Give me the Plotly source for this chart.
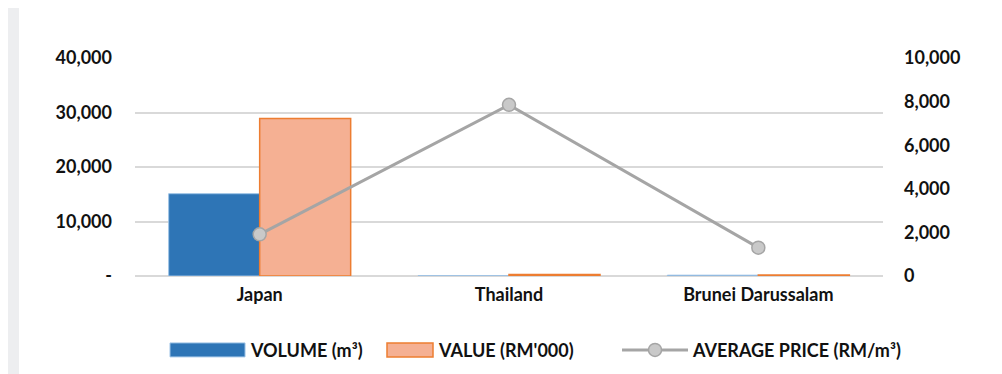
import plotly.graph_objects as go

countries = ['Japan', 'Thailand', 'Brunei Darussalam']
volume = [15100, 35, 150]         # m3
value = [28900, 275, 195]         # RM'000
avg_price = [1910, 7850, 1300]    # RM/m3

left_ticks = [0, 10000, 20000, 30000, 40000]
left_labels = ['-', '10,000', '20,000', '30,000', '40,000']
right_ticks = [0, 2000, 4000, 6000, 8000, 10000]
right_labels = ['0', '2,000', '4,000', '6,000', '8,000', '10,000']

FONT = 'Lato'
BLUE = '#2e75b6'
ORANGE_FILL = '#f5b093'
ORANGE_LINE = '#ed7d31'
GREY = '#a5a5a5'
TXT = dict(family=FONT, size=18, color='#111111', weight='bold')

fig = go.Figure()

fig.add_trace(go.Bar(x=countries, y=volume, name='VOLUME (m³)',
                     marker=dict(color=BLUE, line=dict(color='#9dc3e6', width=1)),
                     showlegend=False))
fig.add_trace(go.Bar(x=countries, y=value, name="VALUE (RM'000)",
                     marker=dict(color=ORANGE_FILL, line=dict(color=ORANGE_LINE, width=1.5)),
                     showlegend=False))
fig.add_trace(go.Scatter(x=countries, y=avg_price, name='AVERAGE PRICE (RM/m³)', yaxis='y2',
                         mode='lines+markers',
                         line=dict(color=GREY, width=3),
                         marker=dict(size=13, color='#c9c9c9', line=dict(color=GREY, width=1.5)),
                         showlegend=False))

# white card on grey page
fig.add_shape(type='rect', xref='paper', yref='paper', x0=-0.1551, x1=1.1524, y0=-0.6, y1=1.3,
              fillcolor='white', line_width=0, layer='below')

# hand-drawn legend (wide swatches like the original)
legend_y = -0.339
fig.add_shape(type='rect', xref='paper', yref='paper', x0=0.0468, x1=0.1471,
              y0=legend_y - 0.032, y1=legend_y + 0.032, fillcolor=BLUE,
              line=dict(color='#9dc3e6', width=1))
fig.add_shape(type='rect', xref='paper', yref='paper', x0=0.3369, x1=0.3984,
              y0=legend_y - 0.032, y1=legend_y + 0.032, fillcolor=ORANGE_FILL,
              line=dict(color=ORANGE_LINE, width=1.5))
fig.add_shape(type='line', xref='paper', yref='paper', x0=0.6511, x1=0.7393,
              y0=legend_y, y1=legend_y, line=dict(color=GREY, width=3))
fig.add_shape(type='circle', xref='paper', yref='paper', xsizemode='pixel', ysizemode='pixel',
              xanchor=0.6952, yanchor=legend_y, x0=-6.5, x1=6.5, y0=-6.5, y1=6.5,
              fillcolor='#c9c9c9', line=dict(color=GREY, width=1.5))

legend_items = [(0.151, 'VOLUME (m³)'), (0.4024, "VALUE (RM'000)"), (0.7420, 'AVERAGE PRICE (RM/m³)')]
for lx, txt in legend_items:
    fig.add_annotation(x=lx, y=legend_y, xref='paper', yref='paper', text=txt,
                       showarrow=False, xanchor='left', yanchor='middle', font=TXT)

fig.update_layout(
    width=994, height=366,
    paper_bgcolor='#edeef0', plot_bgcolor='white',
    margin=dict(l=127, r=119, t=50, b=98),
    barmode='group', bargap=0.27, bargroupgap=0,
    font=TXT,
    xaxis=dict(showgrid=False, showline=False, ticks='', tickfont=TXT,
               ticklabelstandoff=6, automargin=False),
    yaxis=dict(range=[0, 40000], tickvals=left_ticks, ticktext=left_labels,
               showgrid=True, gridcolor='#d9d9d9', gridwidth=1.5, zeroline=True,
               zerolinecolor='#d9d9d9', zerolinewidth=1.5, ticks='', ticklabelstandoff=22,
               tickfont=TXT, automargin=False),
    yaxis2=dict(range=[0, 10000], tickvals=right_ticks, ticktext=right_labels,
                overlaying='y', side='right', showgrid=False, zeroline=False, ticks='',
                ticklabelstandoff=20, tickfont=TXT, automargin=False),
    hovermode=False,
)

fig.write_html('out.html')
